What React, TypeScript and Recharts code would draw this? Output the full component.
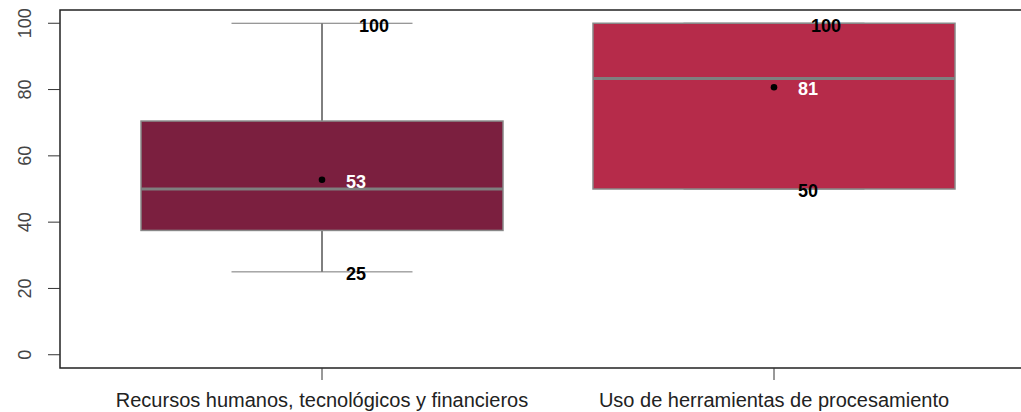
import React from "react";
import { ComposedChart, Bar, XAxis, YAxis, ReferenceArea } from "recharts";

// Boxplot stats per category
const categories = ["Recursos humanos, tecnológicos y financieros", "Uso de herramientas de procesamiento"];
const whiskerLow = [25, 50];
const q1 = [37.5, 50];
const median = [50, 83.3];
const q3 = [70.5, 100];
const whiskerHigh = [100, 100];
const means = [52.8, 80.7];
const meanLabels = ["53", "81"];
const boxColors = ["#7b1f3f", "#b62b4a"];
const yTicks = [0, 20, 40, 60, 80, 100];

const data = categories.map((name, i) => ({
  name,
  box: [q1[i], q3[i]],
  low: whiskerLow[i],
  q1: q1[i],
  median: median[i],
  q3: q3[i],
  high: whiskerHigh[i],
  mean: means[i],
  meanLabel: meanLabels[i],
  color: boxColors[i],
}));

const FONT = "'Liberation Sans', Arial, sans-serif";

function BoxShape(props: any) {
  const { x, y, width, height, payload } = props;
  const top = Math.min(y, y + height);
  const k = Math.abs(height) / (payload.q3 - payload.q1);
  const yOf = (v: number) => top + (payload.q3 - v) * k;
  const cx = x + width / 2;
  const capHalf = width / 4;
  return (
    <g>
      {/* whiskers */}
      <line x1={cx} x2={cx} y1={yOf(payload.high)} y2={yOf(payload.q3)} stroke="#000" strokeWidth={1} />
      <line x1={cx} x2={cx} y1={yOf(payload.q1)} y2={yOf(payload.low)} stroke="#000" strokeWidth={1} />
      <line x1={cx - capHalf} x2={cx + capHalf} y1={yOf(payload.high)} y2={yOf(payload.high)} stroke="#777" strokeWidth={1} />
      <line x1={cx - capHalf} x2={cx + capHalf} y1={yOf(payload.low)} y2={yOf(payload.low)} stroke="#777" strokeWidth={1} />
      {/* box */}
      <rect x={x} y={yOf(payload.q3)} width={width} height={yOf(payload.q1) - yOf(payload.q3)} fill={payload.color} stroke="#888" strokeWidth={1.5} />
      <line x1={x} x2={x + width} y1={yOf(payload.median)} y2={yOf(payload.median)} stroke="#7f7f7f" strokeWidth={3} />
      {/* mean */}
      <circle cx={cx} cy={yOf(payload.mean)} r={3.3} fill="#000" />
      {/* labels */}
      <g fontFamily={FONT} fontWeight="bold" fontSize={18} textAnchor="middle" dominantBaseline="central">
        <text x={cx + 52} y={yOf(payload.high) + 3} fill="#000">{payload.high}</text>
        <text x={cx + 34} y={yOf(payload.mean) + 2} fill="#fff">{payload.meanLabel}</text>
        <text x={cx + 34} y={yOf(payload.low) + 2} fill="#000">{payload.low}</text>
      </g>
    </g>
  );
}

function YTick(props: any) {
  const { x, y, payload } = props;
  const tx = x - 21;
  return (
    <text x={tx} y={y} transform={`rotate(-90, ${tx}, ${y})`} textAnchor="middle" dominantBaseline="central" fontFamily={FONT} fontSize={18} fill="#444">
      {payload.value}
    </text>
  );
}

function XTick(props: any) {
  const { x, y, payload } = props;
  return (
    <text x={x} y={y + 25} textAnchor="middle" fontFamily={FONT} fontSize={20} fill="#222">
      {payload.value}
    </text>
  );
}

export default function App() {
  return (
    <div style={{ position: "fixed", left: 0, top: 0, width: 1021, height: 412, background: "#fff" }}>
      <ComposedChart width={1021} height={412} data={data} margin={{ top: 10, right: -15, bottom: 0, left: 0 }}>
        <XAxis
          dataKey="name"
          height={44}
          padding={{ left: 36, right: 36 }}
          axisLine={false}
          tickLine={{ stroke: "#333" }}
          tickSize={12}
          tick={<XTick />}
          interval={0}
        />
        <XAxis xAxisId="frame" type="number" domain={[0, 1]} hide />
        <YAxis
          domain={[-4, 104]}
          ticks={yTicks}
          width={60}
          axisLine={false}
          tickLine={{ stroke: "#333" }}
          tickSize={12}
          tick={<YTick />}
          allowDataOverflow
        />
        <ReferenceArea xAxisId="frame" x1={0} x2={1} y1={-4} y2={104} fill="none" stroke="#222" strokeWidth={1.5} ifOverflow="visible" />
        <Bar dataKey="box" barSize={362} shape={<BoxShape />} isAnimationActive={false} />
      </ComposedChart>
    </div>
  );
}
